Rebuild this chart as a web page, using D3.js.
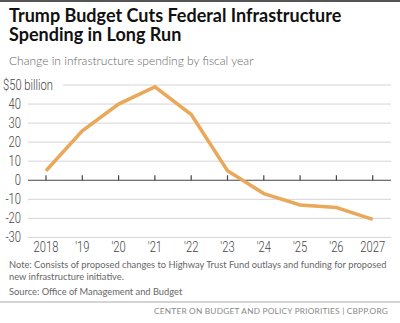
<!DOCTYPE html>
<html>
<head>
<meta charset="utf-8">
<script src="https://d3js.org/d3.v7.min.js"></script>
<style>
  body { margin: 0; background: #fff; font-family: Lato, "Open Sans", sans-serif; }
  .tick-label { font-family: Roboto, sans-serif; font-weight: 300; font-size: 14px; fill: #444; }
</style>
</head>
<body>
<script>
// fiscal years and the change in infrastructure spending ($ billions)
var years = [2018, 2019, 2020, 2021, 2022, 2023, 2024, 2025, 2026, 2027];
var yearLabels = ["2018", "'19", "'20", "'21", "'22", "'23", "'24", "'25", "'26", "2027"];
var spending = [5, 26, 40, 49, 34.5, 5, -7, -13, -14.3, -20.5];
var yTicks = [50, 40, 30, 20, 10, 0, -10, -20, -30];

var width = 400, height = 323;
var squeeze = 0.8; // condensed look for the axis labels

var svg = d3.select("body").append("svg")
    .attr("width", width)
    .attr("height", height);

// top rule
svg.append("rect").attr("x", 0).attr("y", 0).attr("width", width).attr("height", 2).style("fill", "#555");

// title and subtitle
["Trump Budget Cuts Federal Infrastructure", "Spending in Long Run"].forEach(function(t, i) {
  svg.append("text")
      .attr("x", 9).attr("y", 21.5 + i * 19)
      .style("font-family", "Lato")
      .style("font-weight", "bold")
      .style("font-size", "18px")
      .style("fill", "#111")
      .text(t);
});

svg.append("text")
    .attr("x", 9).attr("y", 65)
    .style("font-size", "12px")
    .style("font-weight", 300)
    .style("fill", "#666")
    .text("Change in infrastructure spending by fiscal year");

// scales
var x = d3.scalePoint().domain(years).range([46, 372.7]);
var y = d3.scaleLinear().domain([-30, 50]).range([237.4, 85]);

// gridlines
svg.append("g").selectAll("line")
    .data(yTicks.filter(function(d) { return d !== 0; }))
    .enter().append("line")
    .attr("x1", function(d) { return d === 50 ? 63 : 28; })
    .attr("x2", 391)
    .attr("y1", function(d) { return y(d); })
    .attr("y2", function(d) { return y(d); })
    .style("stroke", "#d4d4d4")
    .style("stroke-width", 1);

// y labels
svg.append("g")
    .selectAll("text")
    .data(yTicks)
    .enter().append("text")
    .attr("class", "tick-label")
    .attr("transform", function(d) {
      return "translate(" + (d === 50 ? 3 : 21) + "," + (y(d) + 5) + ") scale(" + squeeze + ",1)";
    })
    .attr("text-anchor", function(d) { return d === 50 ? "start" : "end"; })
    .text(function(d) { return d === 50 ? "$50 billion" : d; });

// zero axis with ticks
svg.append("line")
    .attr("x1", 28).attr("x2", 391)
    .attr("y1", y(0)).attr("y2", y(0))
    .style("stroke", "#444").style("stroke-width", 1.2);

svg.append("g").selectAll("line")
    .data(years)
    .enter().append("line")
    .attr("x1", function(d) { return x(d); })
    .attr("x2", function(d) { return x(d); })
    .attr("y1", y(0) - 5)
    .attr("y2", y(0))
    .style("stroke", "#444").style("stroke-width", 1.2);

// x labels
svg.append("g").selectAll("text")
    .data(years)
    .enter().append("text")
    .attr("class", "tick-label")
    .attr("transform", function(d) { return "translate(" + x(d) + ",252) scale(" + squeeze + ",1)"; })
    .attr("text-anchor", "middle")
    .text(function(d, i) { return yearLabels[i]; });

// spending line
var line = d3.line()
    .x(function(d, i) { return x(years[i]); })
    .y(function(d) { return y(d); });

svg.append("path")
    .datum(spending)
    .attr("d", line)
    .style("fill", "none")
    .style("stroke", "#e9a85a")
    .style("stroke-width", 3.5)
    .style("stroke-linejoin", "miter");

// notes
var note = svg.append("text")
    .style("font-size", "9.3px")
    .style("fill", "#666");
note.append("tspan").attr("x", 9).attr("y", 268)
    .text("Note: Consists of proposed changes to Highway Trust Fund outlays and funding for proposed");
note.append("tspan").attr("x", 9).attr("y", 280)
    .text("new infrastructure initiative.");

svg.append("text")
    .attr("x", 9).attr("y", 295)
    .style("font-size", "9.3px")
    .style("fill", "#666")
    .text("Source: Office of Management and Budget");

// footer
svg.append("line")
    .attr("x1", 0).attr("x2", width)
    .attr("y1", 302).attr("y2", 302)
    .style("stroke", "#aaa").style("stroke-width", 1);

svg.append("text")
    .attr("x", 388).attr("y", 314)
    .attr("text-anchor", "end")
    .style("font-size", "8.3px")
    .style("letter-spacing", "0.2px")
    .style("fill", "#888")
    .text("CENTER ON BUDGET AND POLICY PRIORITIES | CBPP.ORG");
</script>
</body>
</html>
